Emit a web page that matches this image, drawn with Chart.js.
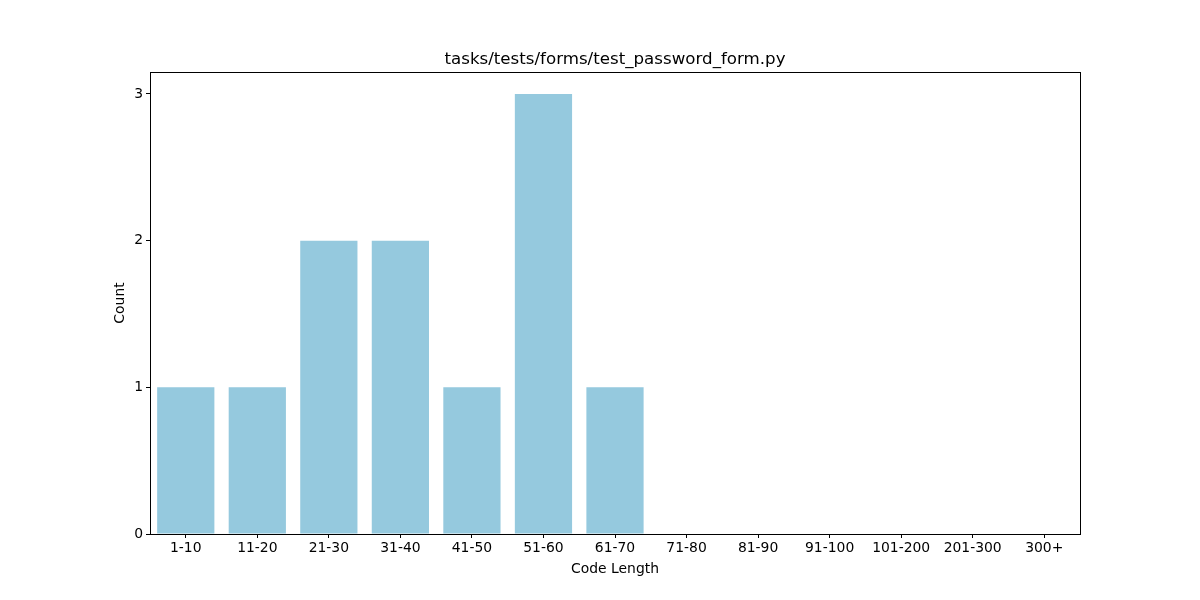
<!DOCTYPE html>
<html>
<head>
<meta charset="utf-8">
<script src="https://cdn.jsdelivr.net/npm/chart.js@4.4.1/dist/chart.umd.min.js"></script>
<style>
  html, body { margin: 0; padding: 0; background: #fff; }
  #wrap { width: 1200px; height: 600px; }
</style>
</head>
<body>
<div id="wrap"><canvas id="chart" width="1200" height="600"></canvas></div>
<script>
// chart data
const categories = ['1-10', '11-20', '21-30', '31-40', '41-50', '51-60', '61-70',
  '71-80', '81-90', '91-100', '101-200', '201-300', '300+'];
const counts = [1, 1, 2, 2, 1, 3, 1, 0, 0, 0, 0, 0, 0];
const yTicks = [0, 1, 2, 3];

const FONT = 'DejaVu Sans';

// box around the plot area
const frame = {
  id: 'frame',
  afterDraw(chart) {
    const a = chart.chartArea;
    const c = chart.ctx;
    c.save();
    c.strokeStyle = '#000';
    c.lineWidth = 1;
    c.strokeRect(Math.round(a.left) + 0.5, Math.round(a.top) + 0.5,
      Math.round(a.right - a.left), Math.round(a.bottom - a.top));
    c.restore();
  }
};

const ctx = document.getElementById('chart').getContext('2d');
new Chart(ctx, {
  type: 'bar',
  data: {
    labels: categories,
    datasets: [{
      data: counts,
      backgroundColor: 'rgb(149, 201, 222)',
      borderWidth: 0,
      categoryPercentage: 0.8,
      barPercentage: 1.0
    }]
  },
  plugins: [frame],
  options: {
    responsive: false,
    animation: false,
    layout: { padding: { top: 0, left: 100, right: 120, bottom: 0 } },
    plugins: {
      legend: { display: false },
      tooltip: { enabled: false }
    },
    scales: {
      // top axis only carries the chart title, centred over the plot
      top: {
        type: 'category',
        position: 'top',
        labels: categories,
        offset: true,
        grid: { display: false },
        border: { display: false },
        ticks: { display: false },
        title: {
          display: true,
          text: 'tasks/tests/forms/test_password_form.py',
          color: '#000',
          font: { family: FONT, size: 16.67, weight: 'normal' },
          padding: { top: 50, bottom: 0 }
        },
        afterFit(scale) { scale.height = 72; }
      },
      x: {
        offset: true,
        grid: { display: true, drawOnChartArea: false, drawTicks: true, tickLength: 4, color: '#000', offset: false },
        border: { display: false },
        ticks: { color: '#000', font: { family: FONT, size: 13.9 }, padding: 2, maxRotation: 0, autoSkip: false },
        title: { display: true, text: 'Code Length', color: '#000', font: { family: FONT, size: 13.9 }, padding: { top: 2, bottom: 22 } },
        afterFit(scale) { scale.height = 66; }
      },
      y: {
        min: 0,
        max: 3.15,
        afterBuildTicks(scale) { scale.ticks = yTicks.map(v => ({ value: v })); },
        grid: { display: true, drawOnChartArea: false, drawTicks: true, tickLength: 4, color: '#000' },
        border: { display: false },
        ticks: { color: '#000', font: { family: FONT, size: 13.9 }, padding: 3 },
        title: { display: true, text: 'Count', color: '#000', font: { family: FONT, size: 13.9 }, padding: { top: 12, bottom: 8 } },
        afterFit(scale) { scale.width = 50; }
      }
    }
  }
});
</script>
</body>
</html>
